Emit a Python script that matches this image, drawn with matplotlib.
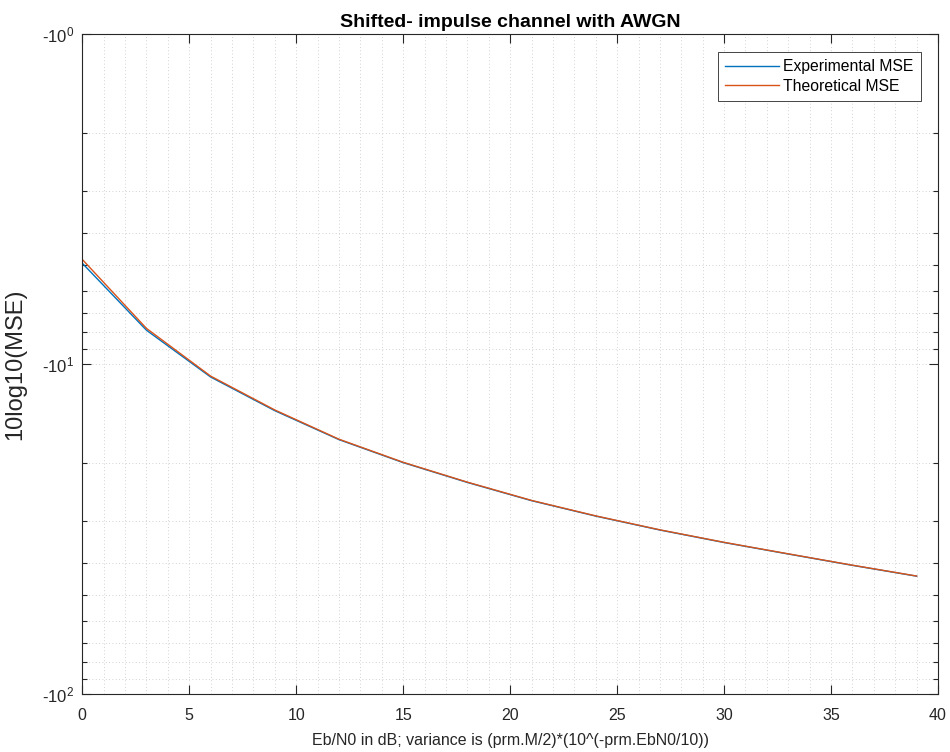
import numpy as np
import matplotlib
matplotlib.use("Agg")
import matplotlib.pyplot as plt
from matplotlib.ticker import FixedLocator, FuncFormatter, MultipleLocator

plt.rcParams['font.family'] = ['Liberation Sans', 'DejaVu Sans']
plt.rcParams['mathtext.default'] = 'regular'

# Data (10log10(MSE), negative dB values)
ebn0 = [0, 3, 6, 9, 12, 15, 18, 21, 24, 27, 30, 33, 36, 39]
mse_experimental = [-4.95, -7.9, -10.95, -13.85, -16.95, -19.9, -22.85,
                    -25.95, -28.9, -31.85, -34.75, -37.65, -40.75, -43.95]
mse_theoretical = [-4.82, -7.8, -10.88, -13.78, -16.9, -19.85, -22.8,
                   -25.9, -28.85, -31.8, -34.7, -37.6, -40.7, -43.9]
y_major = [-1, -10, -100]
y_minor = [-2, -3, -4, -5, -6, -7, -8, -9,
           -20, -30, -40, -50, -60, -70, -80, -90]

fig = plt.figure(figsize=(9.5, 7.52), dpi=100)
ax = fig.add_axes([0.0866, 0.0771, 0.9008, 0.8777])

def fwd(y):
    y = np.asarray(y, dtype=float)
    return np.log10(np.maximum(-y, 1e-300))

def inv(t):
    return -np.power(10.0, t)

ax.set_yscale('function', functions=(fwd, inv))

ax.plot(ebn0, mse_experimental, color='#0072BD', lw=1.0, label='Experimental MSE')
ax.plot(ebn0, mse_theoretical, color='#D95319', lw=1.0, label='Theoretical MSE')

ax.set_xlim(0, 40)
ax.set_ylim(-1, -100)

ax.xaxis.set_major_locator(MultipleLocator(5))
ax.xaxis.set_minor_locator(MultipleLocator(1))
ax.yaxis.set_major_locator(FixedLocator(y_major))
ax.yaxis.set_minor_locator(FixedLocator(y_minor))
ax.yaxis.set_major_formatter(FuncFormatter(
    lambda v, p: '-10$^{%d}$' % int(round(np.log10(-v)))))
ax.yaxis.set_minor_formatter(FuncFormatter(lambda v, p: ''))

edge = '#262626'
for s in ax.spines.values():
    s.set_color(edge)
    s.set_linewidth(0.8)

ax.tick_params(which='both', direction='in', top=True, right=True,
               color=edge, labelcolor=edge, labelsize=11.5, width=0.8)
ax.tick_params(axis='both', which='major', length=6.2, pad=10)
ax.tick_params(axis='y', which='major', labelsize=12, pad=6)
ax.tick_params(axis='y', which='minor', length=3.5)
ax.tick_params(axis='x', which='minor', length=0)

ax.grid(True, which='both', linestyle=(0, (1, 3)), color='#c4c4c4', linewidth=0.6)
ax.set_axisbelow(True)

ax.set_title('Shifted- impulse channel with AWGN', fontsize=14, fontweight='bold',
             color='#000000', pad=5.3)
ax.set_xlabel('Eb/N0 in dB; variance is (prm.M/2)*(10^(-prm.EbN0/10))',
              fontsize=11.5, color=edge)
ax.xaxis.set_label_coords(0.5, -0.0598)
ax.set_ylabel('10log10(MSE)', fontsize=17, color=edge)
ax.yaxis.set_label_coords(-0.0658, 0.5)

leg = ax.legend(loc='upper right', bbox_to_anchor=(0.9798, 0.9727), fontsize=11.3,
                frameon=True, fancybox=False, framealpha=1, edgecolor=edge,
                handlelength=3.4, borderpad=0.45, labelspacing=0.3,
                handletextpad=0.3, borderaxespad=0)
leg.get_frame().set_linewidth(0.6)

fig.savefig('out.png', dpi=100)
